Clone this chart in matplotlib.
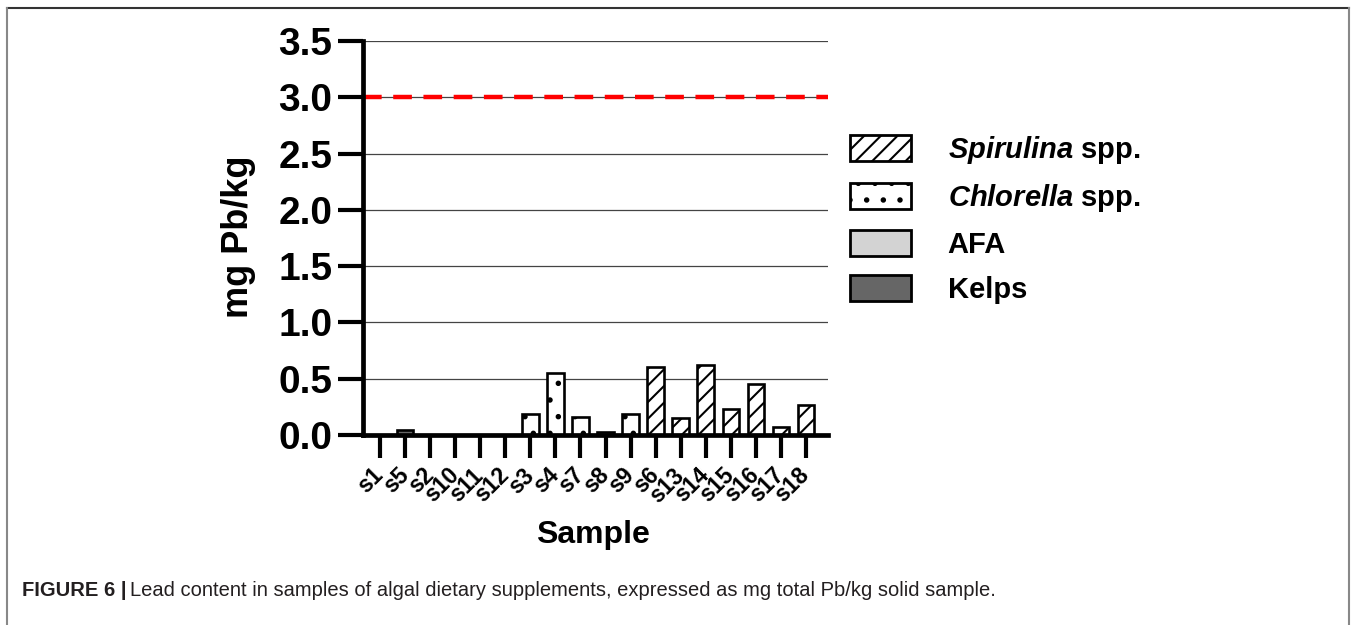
import matplotlib
matplotlib.use('Agg')
import matplotlib.pyplot as plt
from matplotlib.patches import Patch
from matplotlib.lines import Line2D

plt.rcParams['font.family'] = ['Liberation Sans', 'DejaVu Sans']
plt.rcParams['mathtext.fontset'] = 'custom'
plt.rcParams['mathtext.rm'] = 'Liberation Sans:bold'
plt.rcParams['mathtext.bf'] = 'Liberation Sans:bold'
plt.rcParams['mathtext.it'] = 'Liberation Sans:bold:italic'
plt.rcParams['hatch.linewidth'] = 1.5

# ---- data ----
samples = ['s1', 's5', 's2', 's10', 's11', 's12', 's3', 's4', 's7', 's8',
           's9', 's6', 's13', 's14', 's15', 's16', 's17', 's18']
values = [0.0, 0.04, 0.0, 0.0, 0.0, 0.0, 0.19, 0.55, 0.16, 0.03,
          0.185, 0.60, 0.155, 0.62, 0.23, 0.45, 0.07, 0.27]
groups = ['AFA', 'Kelps', 'AFA', 'Kelps', 'Kelps', 'Kelps', 'Chlorella',
          'Chlorella', 'Chlorella', 'Kelps', 'Chlorella', 'Spirulina',
          'Spirulina', 'Spirulina', 'Spirulina', 'Spirulina', 'Spirulina',
          'Spirulina']
legend_keys = ['Spirulina', 'Chlorella', 'AFA', 'Kelps']
legend_labels = [r'$\mathit{Spirulina}$ spp.', r'$\mathit{Chlorella}$ spp.',
                 'AFA', 'Kelps']
y_ticks = [0.0, 0.5, 1.0, 1.5, 2.0, 2.5, 3.0, 3.5]
limit_value = 3.0

styles = {
    'Spirulina': dict(facecolor='white', hatch='//'),
    'Chlorella': dict(facecolor='white', hatch='.'),
    'AFA': dict(facecolor='#d3d3d3', hatch=None),
    'Kelps': dict(facecolor='#666666', hatch=None),
}

W, H = 1357, 625
fig = plt.figure(figsize=(W / 100, H / 100), dpi=100)
x0, x1, y0, y1 = 363, 828, 435, 41
ax = fig.add_axes([x0 / W, 1 - y0 / H, (x1 - x0) / W, (y0 - y1) / H])

xs = list(range(len(samples)))
for x, v, g in zip(xs, values, groups):
    st = styles[g]
    ax.bar(x, v, width=0.66, facecolor=st['facecolor'], edgecolor='black',
           hatch=st['hatch'], linewidth=1.9, zorder=2)

ax.axhline(limit_value, color='red', lw=3.2, dashes=(4.2, 2.6), zorder=3)

ax.set_xlim(-0.68, 17.88)
ax.set_ylim(0, 3.5)
ax.set_yticks(y_ticks)
ax.set_yticklabels([f'{t:.1f}' for t in y_ticks], fontsize=28, fontweight='bold')
ax.set_xticks(xs)
ax.set_xticklabels(samples, rotation=45, ha='right', va='center',
                   fontsize=16.5, fontweight='bold', rotation_mode='anchor')
ax.yaxis.grid(True, color='#444444', lw=0.9, zorder=0)
ax.set_axisbelow(True)
for s in ['top', 'right']:
    ax.spines[s].set_visible(False)
for s in ['left', 'bottom']:
    ax.spines[s].set_linewidth(3.4)
    ax.spines[s].set_capstyle('projecting')
    ax.spines[s].set_zorder(4)
ax.tick_params(axis='y', length=18, width=3, pad=4, direction='out')
ax.tick_params(axis='x', length=16.5, width=3, pad=10, direction='out')

fig.text(238 / W, 1 - 237 / H, 'mg Pb/kg', rotation=90, ha='center',
         va='center', fontsize=26, fontweight='bold')
fig.text(593 / W, 1 - 535 / H, 'Sample', ha='center', va='center',
         fontsize=23, fontweight='bold')

handles = []
for k in legend_keys:
    st = styles[k]
    handles.append(Patch(facecolor=st['facecolor'], edgecolor='black',
                         hatch=st['hatch'], linewidth=2))
leg = fig.legend(handles, legend_labels, loc='upper left',
                 bbox_to_anchor=(850 / W, 1 - 134 / H), frameon=False,
                 prop=dict(size=21, weight='bold'), handlelength=2.1,
                 handleheight=1.0, handletextpad=1.25, labelspacing=0.55,
                 borderpad=0, borderaxespad=0)

# caption
cap_y = 1 - 591 / H
cap1 = fig.text(22 / W, cap_y, 'FIGURE 6 |', fontsize=14.5,
                fontweight='bold', color='#231f20', va='center', ha='left')
fig.canvas.draw()
r = fig.canvas.get_renderer()
bb = cap1.get_window_extent(r)
fig.text((bb.x1 + 4) / W, cap_y,
         'Lead content in samples of algal dietary supplements, expressed as mg total Pb/kg solid sample.',
         fontsize=14.5, color='#231f20', va='center', ha='left')

# figure frame
fig.add_artist(Line2D([7 / W, 1349 / W], [1 - 8 / H, 1 - 8 / H],
                      transform=fig.transFigure, color='#333333', lw=1.5))
fig.add_artist(Line2D([7 / W, 7 / W], [1 - 8 / H, 0],
                      transform=fig.transFigure, color='#888888', lw=1.5))
fig.add_artist(Line2D([1349 / W, 1349 / W], [1 - 8 / H, 0],
                      transform=fig.transFigure, color='#888888', lw=1.5))

fig.savefig('out.png', dpi=100)
